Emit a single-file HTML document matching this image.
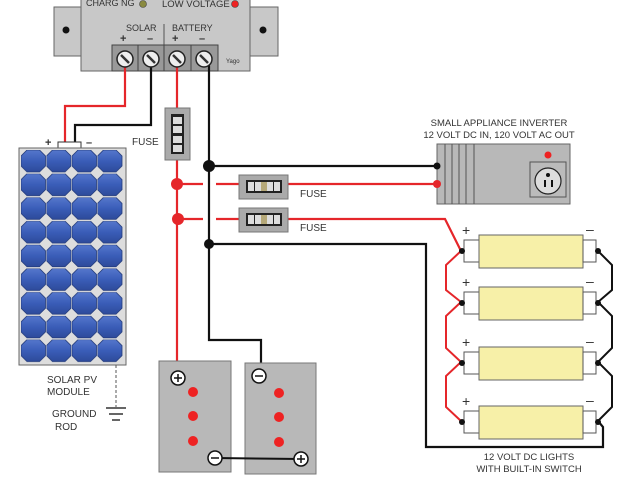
<!DOCTYPE html>
<html><head><meta charset="utf-8"><style>
html,body{margin:0;padding:0;background:#fff;}
svg{display:block;}
text{font-family:"Liberation Sans",sans-serif;fill:#333;}
</style></head><body>
<svg width="640" height="480" viewBox="0 0 640 480" xmlns="http://www.w3.org/2000/svg">
<defs>
<linearGradient id="cell" x1="0" y1="0" x2="0" y2="1">
<stop offset="0" stop-color="#5577cc"/><stop offset="0.5" stop-color="#3a5db8"/><stop offset="1" stop-color="#2d4a9a"/>
</linearGradient>
<pattern id="pv" x="21" y="150" width="25.5" height="23.7" patternUnits="userSpaceOnUse">
<polygon points="6,0 18.5,0 24.5,6 24.5,16 18.5,22 6,22 0,16 0,6" fill="url(#cell)" stroke="#223a7a" stroke-width="0.8"/>
</pattern>
<g id="screw"><circle r="8" fill="#eee" stroke="#222" stroke-width="1.5"/><line x1="-4" y1="-4" x2="4" y2="4" stroke="#333" stroke-width="2.5"/></g>
</defs>

<!-- controller -->
<rect x="54" y="7" width="28" height="49" fill="#c8c8c8" stroke="#666"/>
<rect x="250" y="7" width="28" height="49" fill="#c8c8c8" stroke="#666"/>
<circle cx="66" cy="30" r="3.5" fill="#111"/>
<circle cx="263" cy="30" r="3.5" fill="#111"/>
<rect x="81" y="-2" width="169" height="73" fill="#c8c8c8" stroke="#666"/>
<text x="86" y="6" font-size="9">CHARG NG</text>
<circle cx="143" cy="4" r="3.5" fill="#8a8a40" stroke="#444" stroke-width="0.6"/>
<text x="162" y="7" font-size="9.5">LOW VOLTAGE</text>
<circle cx="235" cy="4" r="3.5" fill="#e22" stroke="#444" stroke-width="0.6"/>
<line x1="164" y1="24" x2="164" y2="45" stroke="#555"/>
<text x="126" y="31" font-size="9">SOLAR</text>
<text x="172" y="31" font-size="9">BATTERY</text>
<text x="120" y="42" font-size="11" font-weight="bold">+</text>
<text x="147" y="42" font-size="11" font-weight="bold">–</text>
<text x="172" y="42" font-size="11" font-weight="bold">+</text>
<text x="199" y="42" font-size="11" font-weight="bold">–</text>
<rect x="112" y="45" width="106" height="26" fill="#999" stroke="#444"/>
<line x1="138" y1="45" x2="138" y2="71" stroke="#444"/>
<line x1="164" y1="45" x2="164" y2="71" stroke="#444"/>
<line x1="191" y1="45" x2="191" y2="71" stroke="#444"/>
<text x="226" y="63" font-size="6">Yago</text>

<!-- solar wires -->
<polyline points="125,59 125,106 65,106 65,146" fill="none" stroke="#e5262a" stroke-width="2.2"/>
<polyline points="151,59 151,125 75,125 75,146" fill="none" stroke="#111" stroke-width="2.2"/>
<use href="#screw" x="125" y="59"/>
<use href="#screw" x="151" y="59"/>

<!-- battery + red -->
<line x1="177" y1="59" x2="177" y2="378" stroke="#e5262a" stroke-width="2.2"/>
<use href="#screw" x="177" y="59"/>
<!-- black main -->
<polyline points="204,59 209,66 209,340 261,340 261,376" fill="none" stroke="#111" stroke-width="2.2"/>
<use href="#screw" x="204" y="59"/>

<!-- panel -->
<rect x="58" y="142" width="23" height="6" fill="#fff" stroke="#333"/>
<text x="45" y="146" font-size="11" font-weight="bold">+</text>
<text x="86" y="146" font-size="11" font-weight="bold">–</text>
<rect x="19" y="148" width="107" height="217" fill="#ddd" stroke="#666"/>
<rect x="21" y="150" width="102" height="213" fill="url(#pv)"/>
<text x="47" y="383" font-size="10">SOLAR PV</text>
<text x="47" y="395" font-size="10">MODULE</text>
<line x1="116" y1="365" x2="116" y2="407" stroke="#555" stroke-dasharray="3,2"/>
<line x1="106" y1="408" x2="126" y2="408" stroke="#333" stroke-width="1.5"/>
<line x1="109" y1="414" x2="123" y2="414" stroke="#333" stroke-width="1.5"/>
<line x1="112" y1="420" x2="120" y2="420" stroke="#333" stroke-width="1.5"/>
<text x="52" y="417" font-size="10">GROUND</text>
<text x="55" y="430" font-size="10">ROD</text>

<!-- vertical fuse -->
<rect x="165" y="108" width="25" height="52" fill="#aaa" stroke="#777"/>
<rect x="171" y="114" width="13" height="40" fill="#222"/>
<rect x="173" y="117" width="9" height="7" fill="#ddd"/><rect x="173" y="126" width="9" height="7" fill="#ddd"/>
<rect x="173" y="136" width="9" height="7" fill="#ddd"/><rect x="173" y="145" width="9" height="7" fill="#ddd"/>
<text x="132" y="145" font-size="10">FUSE</text>

<!-- branches -->
<line x1="209" y1="166" x2="437" y2="166" stroke="#111" stroke-width="2.2"/>
<circle cx="209" cy="166" r="6" fill="#111"/>
<line x1="177" y1="184" x2="203" y2="184" stroke="#e5262a" stroke-width="2.2"/>
<line x1="216" y1="184" x2="437" y2="184" stroke="#e5262a" stroke-width="2.2"/>
<circle cx="177" cy="184" r="6" fill="#e5262a"/>
<line x1="177" y1="219" x2="203" y2="219" stroke="#e5262a" stroke-width="2.2"/>
<polyline points="216,219 445,219 461,251" fill="none" stroke="#e5262a" stroke-width="2.2"/>
<circle cx="178" cy="219" r="6" fill="#e5262a"/>
<polyline points="209,244 426,244 426,447 603,447 603,427 598,421" fill="none" stroke="#111" stroke-width="2.2"/>
<circle cx="209" cy="244" r="5" fill="#111"/>

<g id="hf">
<rect x="239" y="175" width="49" height="24" fill="#aaa" stroke="#777"/>
<rect x="246" y="180" width="36" height="13" fill="#222"/>
<rect x="248" y="182" width="6" height="9" fill="#ddd"/><rect x="255" y="182" width="6" height="9" fill="#ddd"/>
<rect x="261" y="182" width="6" height="9" fill="#b5a878"/>
<rect x="267" y="182" width="6" height="9" fill="#ddd"/><rect x="274" y="182" width="6" height="9" fill="#ddd"/>
</g>
<use href="#hf" y="33"/>
<text x="300" y="197" font-size="10">FUSE</text>
<text x="300" y="231" font-size="10">FUSE</text>

<!-- inverter -->
<text x="499" y="126" font-size="9.5" text-anchor="middle">SMALL APPLIANCE INVERTER</text>
<text x="499" y="138" font-size="9.5" text-anchor="middle">12 VOLT DC IN,  120 VOLT AC OUT</text>
<rect x="437" y="144" width="133" height="60" fill="#b8b8b8" stroke="#666"/>
<g stroke="#555"><line x1="445" y1="144" x2="445" y2="204"/><line x1="452" y1="144" x2="452" y2="204"/><line x1="459" y1="144" x2="459" y2="204"/><line x1="466" y1="144" x2="466" y2="204"/><line x1="474" y1="144" x2="474" y2="204"/></g>
<circle cx="548" cy="155" r="3.5" fill="#e22"/>
<rect x="530" y="162" width="36" height="35" fill="#bbb" stroke="#555"/>
<circle cx="548" cy="181" r="13" fill="#ddd" stroke="#222" stroke-width="1.2"/>
<circle cx="548" cy="175" r="2" fill="#111"/>
<rect x="544" y="180" width="2" height="7" fill="#111"/><rect x="551" y="180" width="2" height="7" fill="#111"/>
<circle cx="437" cy="166" r="3.5" fill="#111"/>
<circle cx="437" cy="184" r="4" fill="#e5262a"/>

<!-- lights -->
<polyline points="461,251 446,265 446,290 461,302 446,316 446,348 461,362 446,376 446,407 461,421" fill="none" stroke="#e5262a" stroke-width="2"/>
<polyline points="598,251 612,265 612,290 598,302 612,316 612,348 598,362 612,376 612,407 598,421" fill="none" stroke="#111" stroke-width="2"/>
<g id="tube">
<rect x="464" y="240" width="15" height="22" fill="#fff" stroke="#555"/>
<rect x="479" y="235" width="104" height="33" fill="#f7f0a8" stroke="#666"/>
<rect x="583" y="240" width="13" height="22" fill="#fff" stroke="#555"/>
<circle cx="462" cy="251" r="3" fill="#111"/>
<circle cx="598" cy="251" r="3" fill="#111"/>
<text x="462" y="235" font-size="14">+</text>
<text x="586" y="234" font-size="14">–</text>
</g>
<use href="#tube" y="52"/>
<use href="#tube" y="112"/>
<use href="#tube" y="171"/>
<text x="529" y="460" font-size="9.5" text-anchor="middle">12 VOLT  DC  LIGHTS</text>
<text x="529" y="472" font-size="9.5" text-anchor="middle">WITH BUILT-IN SWITCH</text>

<!-- batteries -->
<rect x="159" y="361" width="72" height="111" fill="#b8b8b8" stroke="#777"/>
<rect x="245" y="363" width="71" height="111" fill="#b8b8b8" stroke="#777"/>
<g fill="#e22"><circle cx="193" cy="392" r="5"/><circle cx="193" cy="416" r="5"/><circle cx="193" cy="441" r="5"/>
<circle cx="279" cy="393" r="5"/><circle cx="279" cy="417" r="5"/><circle cx="279" cy="442" r="5"/></g>
<line x1="215" y1="458" x2="301" y2="459" stroke="#111" stroke-width="2"/>
<g fill="#fff" stroke="#111" stroke-width="1.5">
<circle cx="178" cy="378" r="7"/><circle cx="215" cy="458" r="7"/><circle cx="259" cy="376" r="7"/><circle cx="301" cy="459" r="7"/>
</g>
<g stroke="#111" stroke-width="1.5">
<line x1="174" y1="378" x2="182" y2="378"/><line x1="178" y1="374" x2="178" y2="382"/>
<line x1="211" y1="458" x2="219" y2="458"/>
<line x1="255" y1="376" x2="263" y2="376"/>
<line x1="297" y1="459" x2="305" y2="459"/><line x1="301" y1="455" x2="301" y2="463"/>
</g>
</svg>
</body></html>
